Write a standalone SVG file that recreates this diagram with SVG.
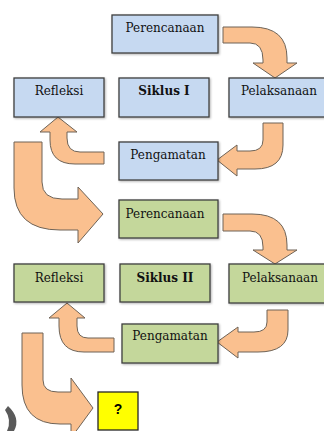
<svg xmlns="http://www.w3.org/2000/svg" width="324" height="431" viewBox="0 0 324 431">
<defs>
<filter id="sh" x="-10%" y="-10%" width="130%" height="140%">
<feDropShadow dx="1" dy="1" stdDeviation="0.8" flood-color="#000" flood-opacity="0.3"/>
</filter>
<style>
.blue{fill:#C6D9F1;stroke:#3F3F3F;stroke-width:1.3;filter:url(#sh)}
.green{fill:#C4D79B;stroke:#3F3F3F;stroke-width:1.3;filter:url(#sh)}
.yellow{fill:#FFFF00;stroke:#262626;stroke-width:1.3}
.lbl{font-family:"DejaVu Serif","Liberation Serif",serif;font-size:12px;fill:#111111;text-anchor:middle}
.bold{font-weight:bold}
.q{font-family:"Liberation Sans",Arial,sans-serif;font-size:14px;font-weight:bold;fill:#000;text-anchor:middle}
.arr{fill:#FAC08F;stroke:#6E6357;stroke-width:1}
</style>
</defs>
<rect width="324" height="431" fill="#FFFFFF"/>

<g id="connectors">
<path class="arr" d="M223,27 L252,27 Q287,27 287,58 L287,63 L297,63 L275,78 L253,63 L263,63 L263,60 Q263,43 250,43 L223,43 Z"/>
<path class="arr" d="M263,123 L283,123 L283,145 Q283,169 255,169 L237,169 L237,176 L217,160 L237,145 L237,151 L250,151 Q263,151 263,140 Z"/>
<path class="arr" d="M104,152 L80,152 Q67,152 67,138 L67,132 L77,132 L58,117 L40,132 L50,132 L50,140 Q50,164 75,164 L104,164 Z"/>
<path class="arr" d="M14,142 L42,142 L42,182 Q42,199 62,199 L78,199 L78,187 L103,214 L78,243 L78,230 L60,230 Q14,230 14,188 Z"/>
<path class="arr" d="M223,214 L252,214 Q287,214 287,245 L287,250 L297,250 L275,264 L253,250 L263,250 L263,247 Q263,231 250,231 L223,231 Z"/>
<path class="arr" d="M267,310 L288,310 L288,330 Q288,352 258,352 L238,352 L238,358 L217,342 L238,327 L238,332 L254,332 Q267,332 267,322 Z"/>
<path class="arr" d="M114,338 L88,338 Q77,338 77,326 L77,318 L85,318 L67,303 L49,318 L59,318 L59,326 Q59,352 84,352 L114,352 Z"/>
<path class="arr" d="M22,333 L43,333 L43,380 Q43,392 58,392 L71,392 L71,378 L93,408 L71,438 L71,424 L60,424 Q22,424 22,385 Z"/>
</g>

<g id="perencanaan1"><rect class="blue" x="112" y="15" width="106" height="38"/><text class="lbl" x="165" y="32">Perencanaan</text></g>
<g id="refleksi1"><rect class="blue" x="14" y="78" width="90" height="39"/><text class="lbl" x="59" y="95">Refleksi</text></g>
<g id="siklus1"><rect class="blue" x="119" y="78" width="90" height="39"/><text class="lbl bold" x="164" y="95">Siklus I</text></g>
<g id="pelaksanaan1"><rect class="blue" x="229" y="78" width="100" height="39"/><text class="lbl" x="279" y="95">Pelaksanaan</text></g>
<g id="pengamatan1"><rect class="blue" x="119" y="142" width="99" height="38"/><text class="lbl" x="168" y="159">Pengamatan</text></g>

<g id="perencanaan2"><rect class="green" x="119" y="200" width="99" height="38"/><text class="lbl" x="165" y="218">Perencanaan</text></g>
<g id="refleksi2"><rect class="green" x="14" y="264" width="90" height="38"/><text class="lbl" x="59" y="282">Refleksi</text></g>
<g id="siklus2"><rect class="green" x="120" y="264" width="90" height="38"/><text class="lbl bold" x="165" y="282">Siklus II</text></g>
<g id="pelaksanaan2"><rect class="green" x="229" y="264" width="100" height="39"/><text class="lbl" x="280" y="282">Pelaksanaan</text></g>
<g id="pengamatan2"><rect class="green" x="122" y="324" width="96" height="39"/><text class="lbl" x="170" y="340">Pengamatan</text></g>

<g id="question"><rect class="yellow" x="98" y="392" width="40" height="38"/><text class="q" x="118" y="414">?</text></g>

<path d="M8,406 Q21,418 14,431 L7,431 Q12,420 5,410 Z" fill="#5A5A5A"/>
</svg>
